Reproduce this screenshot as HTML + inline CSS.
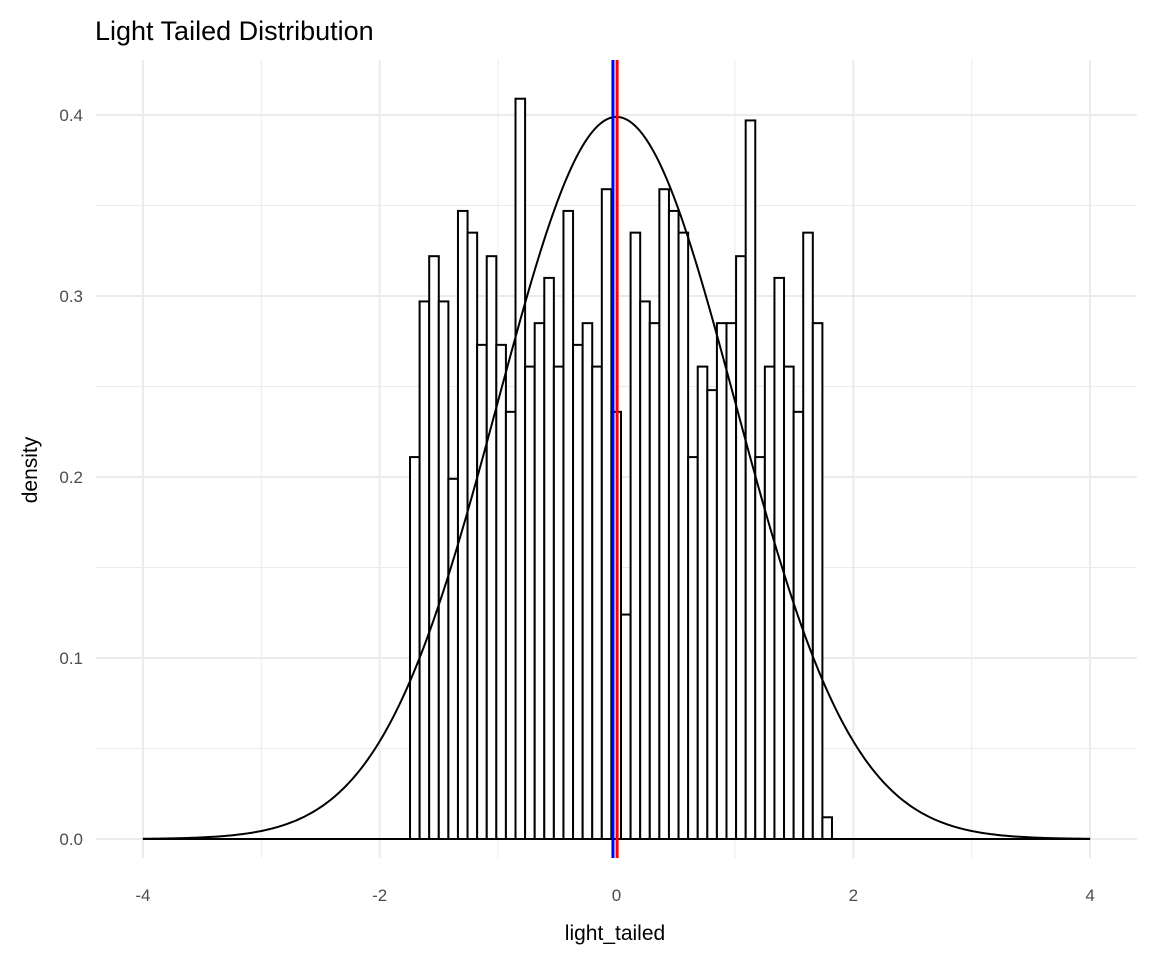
<!DOCTYPE html>
<html><head><meta charset="utf-8"><style>
body{margin:0;background:#fff;}
svg text{font-family:"Liberation Sans",Arial,sans-serif;}
</style></head><body>
<svg width="1152" height="960" viewBox="0 0 1152 960" id="chart">
<g id="grid"></g>
<g id="bars"></g>
<path id="curve" fill="none" stroke="#000" stroke-width="2"/>
<g id="vlines"></g>
<g id="axes"></g>
<text x="95" y="40" font-size="27" fill="#000">Light Tailed Distribution</text>
<text x="615" y="940" font-size="21" text-anchor="middle" fill="#000">light_tailed</text>
<text transform="translate(37,470) rotate(-90)" font-size="21" text-anchor="middle" fill="#000">density</text>
</svg>
<script>
const binStart = -1.744;
const binWidth = 0.0810;
const densities = [0.211,0.297,0.322,0.297,0.199,0.347,0.335,0.273,0.322,0.273,0.236,0.409,0.261,0.285,0.310,0.261,0.347,0.273,0.285,0.261,0.359,0.236,0.124,0.335,0.297,0.285,0.359,0.347,0.335,0.211,0.261,0.248,0.285,0.285,0.322,0.397,0.211,0.261,0.310,0.261,0.236,0.335,0.285,0.012];
const xTicks = [-4,-2,0,2,4];
const xTickLabels = ["-4","-2","0","2","4"];
const yTicks = [0,0.1,0.2,0.3,0.4];
const yTickLabels = ["0.0","0.1","0.2","0.3","0.4"];
const curveMean = 0, curveSd = 1;
const meanValue = 0.005, medianValue = -0.03;

const NS="http://www.w3.org/2000/svg";
const X=v=>616.5+v*118.4;
const Y=v=>839-v*1810;
function mk(tag,attrs,parent){const e=document.createElementNS(NS,tag);for(const k in attrs)e.setAttribute(k,attrs[k]);parent.appendChild(e);return e;}
const grid=document.getElementById('grid');
const L=96,R=1137,T=60,B=858;
for(let i=0;i<xTicks.length;i++){
  const l=mk('line',{x1:X(xTicks[i]),x2:X(xTicks[i]),y1:T,y2:B,stroke:'#ebebeb','stroke-width':2},grid);
  
  
  if(i<xTicks.length-1){const m=(xTicks[i]+xTicks[i+1])/2;
    const n=mk('line',{x1:X(m),x2:X(m),y1:T,y2:B,stroke:'#ebebeb','stroke-width':1},grid);
    
    }
}
for(let i=0;i<yTicks.length;i++){
  const l=mk('line',{x1:L,x2:R,y1:Y(yTicks[i]),y2:Y(yTicks[i]),stroke:'#ebebeb','stroke-width':2},grid);
  
  
  if(i<yTicks.length-1){const m=(yTicks[i]+yTicks[i+1])/2;
    const n=mk('line',{x1:L,x2:R,y1:Y(m),y2:Y(m),stroke:'#ebebeb','stroke-width':1},grid);
    
    }
}
const axes=document.getElementById('axes');
xTicks.forEach((v,i)=>{const t=mk('text',{x:X(v),y:901,'font-size':17,'text-anchor':'middle',fill:'#4d4d4d'},axes);t.textContent=xTickLabels[i];
  
  });
yTicks.forEach((v,i)=>{const t=mk('text',{x:83,y:Y(v)+6,'font-size':17,'text-anchor':'end',fill:'#4d4d4d'},axes);t.textContent=yTickLabels[i];
  
  });
const bars=document.getElementById('bars');
mk('line',{x1:X(-4),x2:X(4),y1:Y(0),y2:Y(0),stroke:'#000','stroke-width':2},bars);
densities.forEach((d,i)=>{const x0=X(binStart+i*binWidth),x1=X(binStart+(i+1)*binWidth);
  const r=mk('rect',{x:x0,y:Y(d),width:x1-x0,height:Y(0)-Y(d),fill:'#fff',stroke:'#000','stroke-width':2},bars);
  
  });
let p='';for(let i=0;i<=400;i++){const x=-4+i*0.02;const y=Math.exp(-0.5*((x-curveMean)/curveSd)**2)/(curveSd*Math.sqrt(2*Math.PI));p+=(i?'L':'M')+X(x).toFixed(2)+','+Y(y).toFixed(2);}
document.getElementById('curve').setAttribute('d',p);
const vl=document.getElementById('vlines');
const b=mk('line',{x1:X(medianValue),x2:X(medianValue),y1:T,y2:B,stroke:'#0000ff','stroke-width':3},vl);


const r=mk('line',{x1:X(meanValue),x2:X(meanValue),y1:T,y2:B,stroke:'#ff0000','stroke-width':3},vl);


</script>
</body></html>
